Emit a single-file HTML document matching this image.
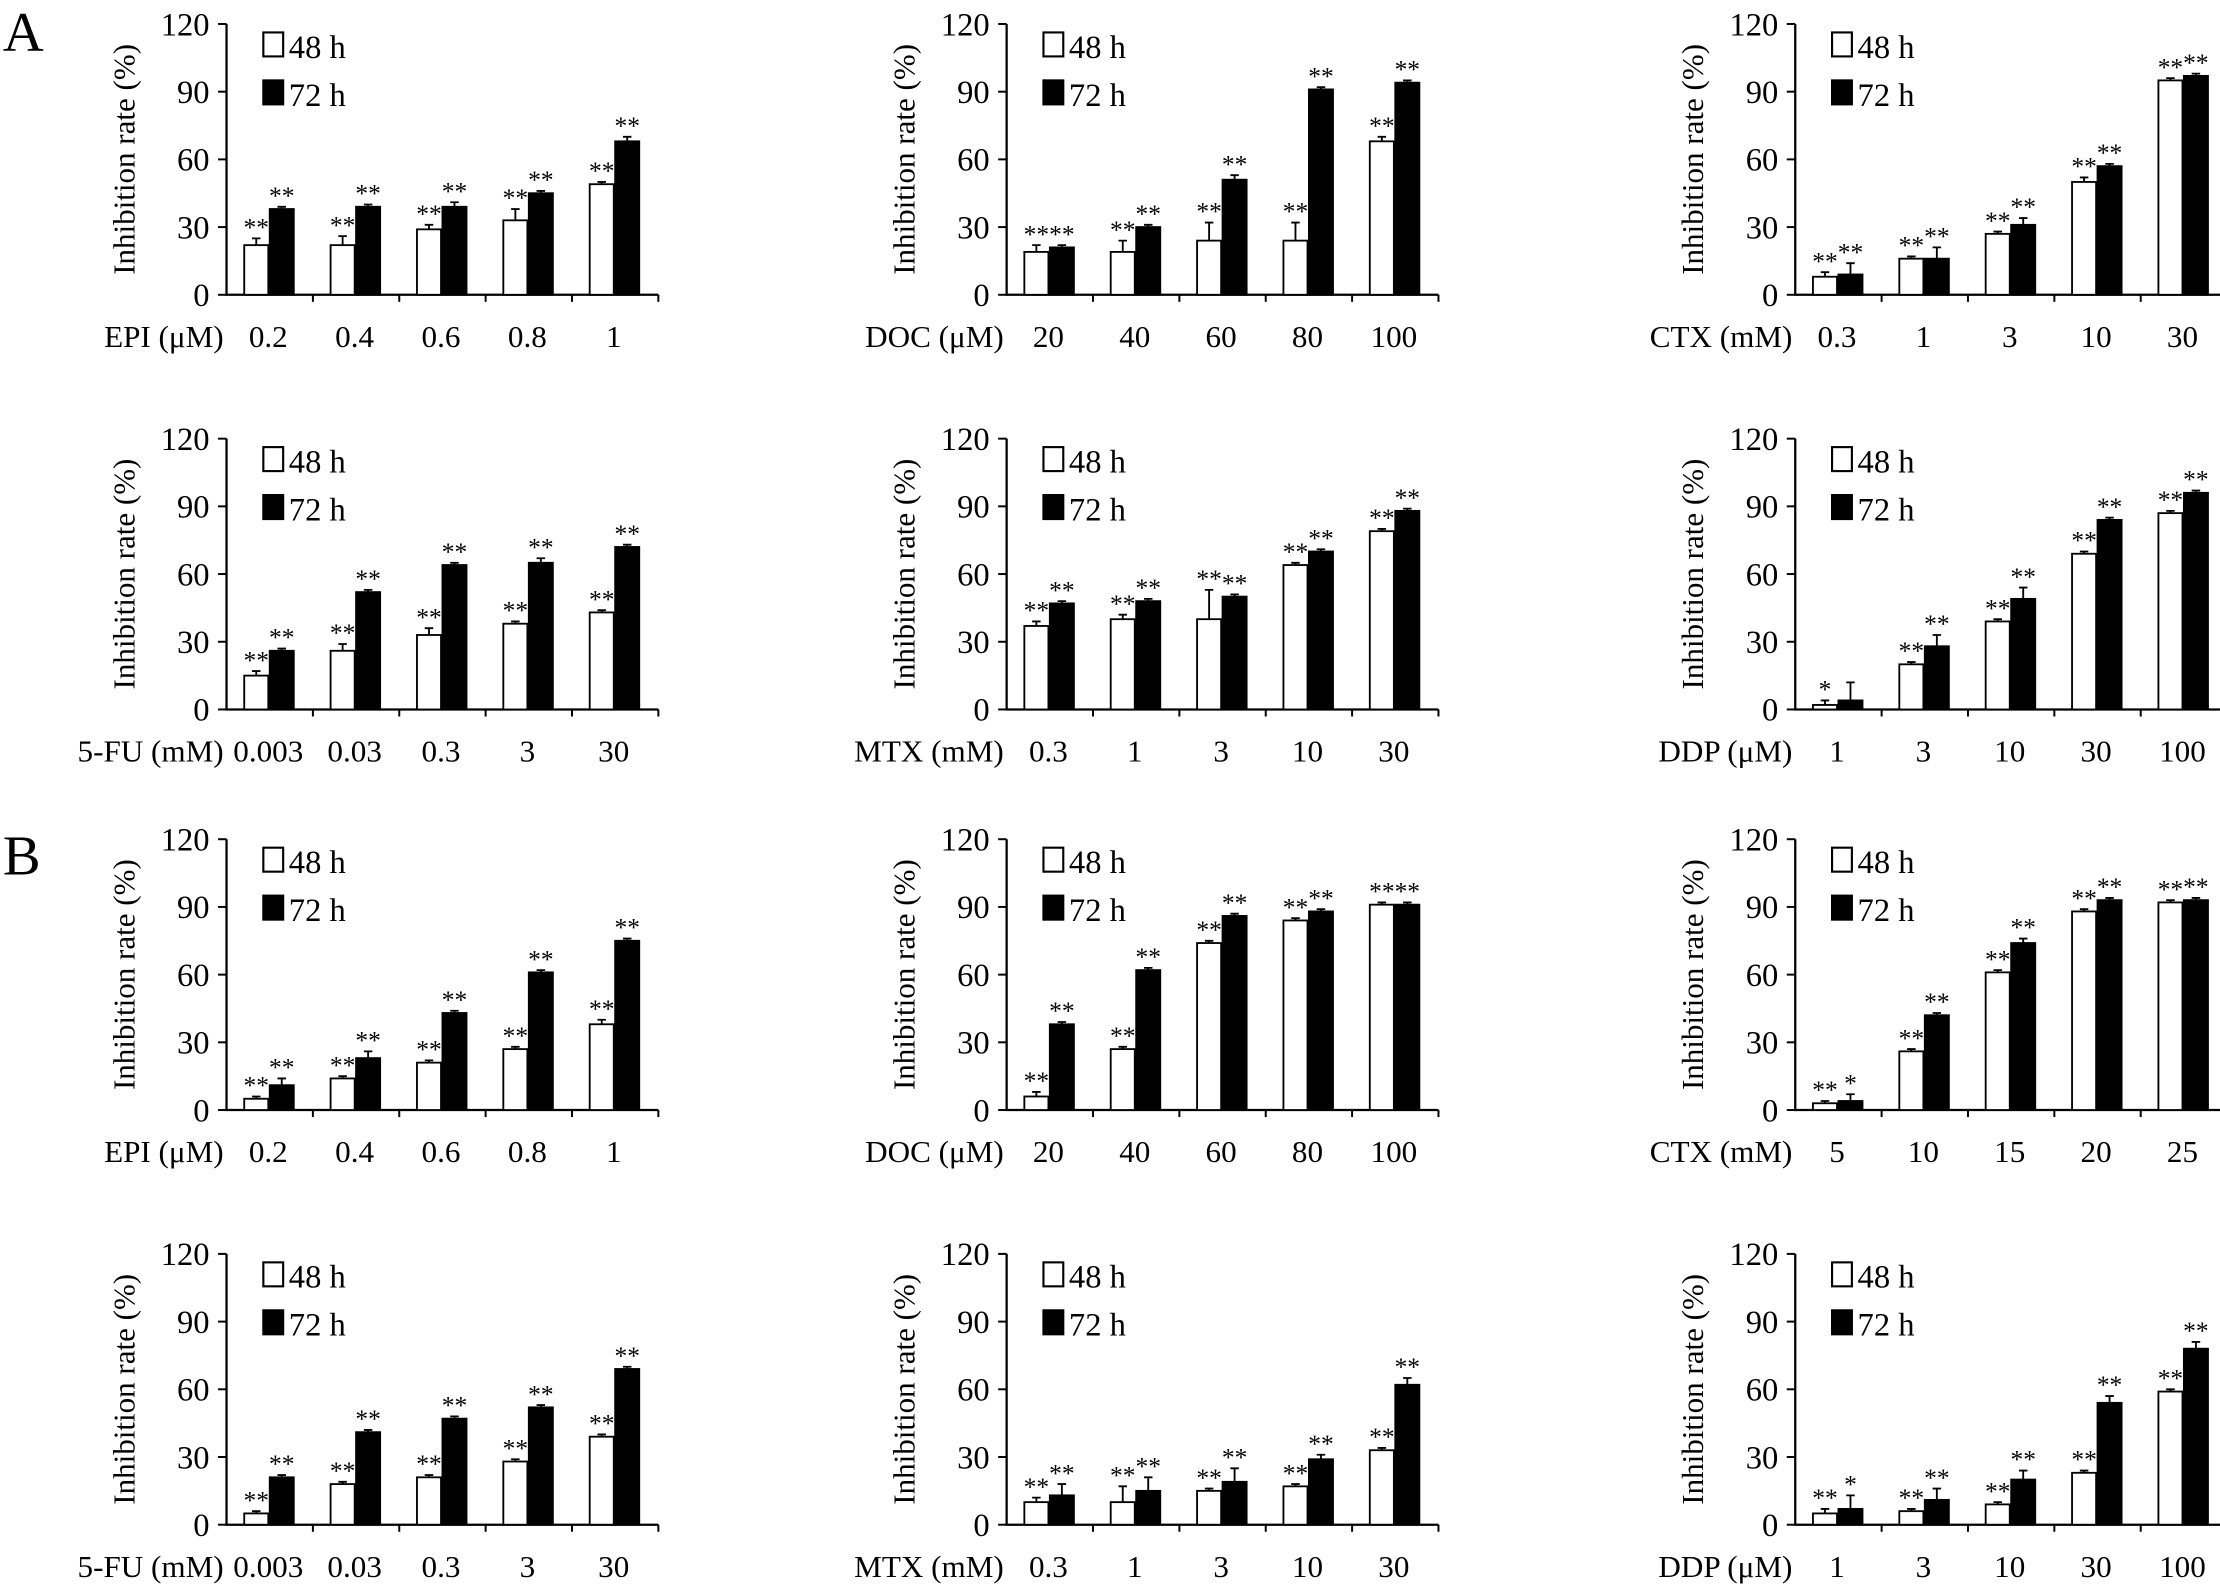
<!DOCTYPE html>
<html><head><meta charset="utf-8">
<style>
html,body{margin:0;padding:0;background:#fff;}
svg{display:block;font-family:"Liberation Serif",serif;}
</style></head>
<body>
<svg id="fig" width="2220" height="1591" viewBox="0 0 1568 1128" preserveAspectRatio="none" xmlns="http://www.w3.org/2000/svg">
<text x="2" y="36" font-size="40">A</text>
<text x="2" y="620" font-size="40">B</text>
</svg>
<script>
// ---- data ----
const yTicks = [0, 30, 60, 90, 120];
const catEPI = ["0.2","0.4","0.6","0.8","1"];
const catDOC = ["20","40","60","80","100"];
const catCTXa = ["0.3","1","3","10","30"];
const catFU = ["0.003","0.03","0.3","3","30"];
const catMTX = ["0.3","1","3","10","30"];
const catDDP = ["1","3","10","30","100"];
const catCTXb = ["5","10","15","20","25"];

const a1_48 = [22,22,29,33,49], a1_72 = [38,39,39,45,68], a1_e48 = [3,4,2,5,1], a1_e72 = [1,1,2,1,2];
const a2_48 = [19,19,24,24,68], a2_72 = [21,30,51,91,94], a2_e48 = [3,5,8,8,2], a2_e72 = [1,1,2,1,1];
const a3_48 = [8,16,27,50,95], a3_72 = [9,16,31,57,97], a3_e48 = [2,1,1,2,1], a3_e72 = [5,5,3,1,1];
const a4_48 = [15,26,33,38,43], a4_72 = [26,52,64,65,72], a4_e48 = [2,3,3,1,1], a4_e72 = [1,1,1,2,1];
const a5_48 = [37,40,40,64,79], a5_72 = [47,48,50,70,88], a5_e48 = [2,2,13,1,1], a5_e72 = [1,1,1,1,1];
const a6_48 = [2,20,39,69,87], a6_72 = [4,28,49,84,96], a6_e48 = [2,1,1,1,1], a6_e72 = [8,5,5,1,1];
const b1_48 = [5,14,21,27,38], b1_72 = [11,23,43,61,75], b1_e48 = [1,1,1,1,2], b1_e72 = [3,3,1,1,1];
const b2_48 = [6,27,74,84,91], b2_72 = [38,62,86,88,91], b2_e48 = [2,1,1,1,1], b2_e72 = [1,1,1,1,1];
const b3_48 = [3,26,61,88,92], b3_72 = [4,42,74,93,93], b3_e48 = [1,1,1,1,1], b3_e72 = [3,1,2,1,1];
const b4_48 = [5,18,21,28,39], b4_72 = [21,41,47,52,69], b4_e48 = [1,1,1,1,1], b4_e72 = [1,1,1,1,1];
const b5_48 = [10,10,15,17,33], b5_72 = [13,15,19,29,62], b5_e48 = [2,7,1,1,1], b5_e72 = [5,6,6,2,3];
const b6_48 = [5,6,9,23,59], b6_72 = [7,11,20,54,78], b6_e48 = [2,1,1,1,1], b6_e72 = [6,5,4,3,3];

const NS = "http://www.w3.org/2000/svg";
const svg = document.getElementById("fig");
function mk(tag, attrs, parent, txt){
  const e = document.createElementNS(NS, tag);
  for (const k in attrs) e.setAttribute(k, attrs[k]);
  if (txt !== undefined) e.textContent = txt;
  parent.appendChild(e);
  return e;
}

function panel(id, ax, y0, title, cats, v48, v72, e48, e72, star48, star72){
  const g = mk("g", {}, svg);
  
  
  const h = 192, step = 61, w = step*cats.length;
  const ys = v => y0 - v/120*h;
  const xc = i => ax + step*(i+0.5);
  const axes = mk("path", {d:`M${ax},${ys(120)}V${y0}H${ax+w}`, stroke:"#000", "stroke-width":1.6, fill:"none"}, g);
  
  
  yTicks.forEach(t=>{
    mk("line",{x1:ax-6,x2:ax,y1:ys(t),y2:ys(t),stroke:"#000","stroke-width":1.4},g);
    const tl = mk("text",{x:ax-12,y:ys(t)+8,"font-size":23,"text-anchor":"end"},g,String(t));
    
    
  });
  for(let i=1;i<=cats.length;i++) mk("line",{x1:ax+step*i,x2:ax+step*i,y1:y0,y2:y0+5,stroke:"#000","stroke-width":1.4},g);
  const yt = mk("text",{transform:`translate(${ax-65},${y0-h/2}) rotate(-90)`,"font-size":22,"text-anchor":"middle"},g,"Inhibition rate (%)");
  
  
  const xt = mk("text",{x:ax-2,y:y0+37,"font-size":22,"text-anchor":"end"},g,title);
  
  
  cats.forEach((c,i)=>{
    const t = mk("text",{x:xc(i)-1,y:y0+37,"font-size":22,"text-anchor":"middle"},g,c);
    
    
  });
  const bw = 17;
  function series(vals, errs, fill, off, stars, name){
    vals.forEach((v,i)=>{
      const x = xc(i)+off;
      const b = mk("rect",{x:x,y:ys(v),width:bw,height:y0-ys(v),fill:fill,stroke:"#000","stroke-width":1.3},g);
      
      
      const top = ys(v+errs[i]);
      mk("path",{d:`M${x+bw/2},${ys(v)}V${top}M${x+bw/2-3},${top}H${x+bw/2+3}`,stroke:"#000","stroke-width":1.3,fill:"none"},g);
      const s = mk("text",{x:x+bw/2,y:top-2,"font-size":18,"text-anchor":"middle"},g,stars[i]||"**");
      
      
    });
  }
  series(v48,e48,"#fff",-bw-1,star48,"48h");
  series(v72,e72,"#000",0,star72,"72h");
  const lg = mk("g",{},g);
  
  
  const lx = ax+26, ly = ys(120);
  mk("rect",{x:lx,y:ly+6,width:14,height:17,fill:"#fff",stroke:"#000","stroke-width":1.5},lg);
  mk("text",{x:lx+18,y:ly+24,"font-size":23},lg,"48 h");
  mk("rect",{x:lx,y:ly+40,width:14,height:17,fill:"#000",stroke:"#000","stroke-width":1.5},lg);
  mk("text",{x:lx+18,y:ly+58,"font-size":23},lg,"72 h");
}

const c1=160, c2=711, c3=1268;
const r1=209, r2=503, r3=787, r4=1081;
panel("a-epi",c1,r1,"EPI (\u03bcM)",catEPI,a1_48,a1_72,a1_e48,a1_e72,[],[]);
panel("a-doc",c2,r1,"DOC (\u03bcM)",catDOC,a2_48,a2_72,a2_e48,a2_e72,[],[]);
panel("a-ctx",c3,r1,"CTX (mM)",catCTXa,a3_48,a3_72,a3_e48,a3_e72,[],[]);
panel("a-5fu",c1,r2,"5-FU (mM)",catFU,a4_48,a4_72,a4_e48,a4_e72,[],[]);
panel("a-mtx",c2,r2,"MTX (mM)",catMTX,a5_48,a5_72,a5_e48,a5_e72,[],[]);
panel("a-ddp",c3,r2,"DDP (\u03bcM)",catDDP,a6_48,a6_72,a6_e48,a6_e72,["*"],[" "]);
panel("b-epi",c1,r3,"EPI (\u03bcM)",catEPI,b1_48,b1_72,b1_e48,b1_e72,[],[]);
panel("b-doc",c2,r3,"DOC (\u03bcM)",catDOC,b2_48,b2_72,b2_e48,b2_e72,[],[]);
panel("b-ctx",c3,r3,"CTX (mM)",catCTXb,b3_48,b3_72,b3_e48,b3_e72,[],["*"]);
panel("b-5fu",c1,r4,"5-FU (mM)",catFU,b4_48,b4_72,b4_e48,b4_e72,[],[]);
panel("b-mtx",c2,r4,"MTX (mM)",catMTX,b5_48,b5_72,b5_e48,b5_e72,[],[]);
panel("b-ddp",c3,r4,"DDP (\u03bcM)",catDDP,b6_48,b6_72,b6_e48,b6_e72,[],["*"]);
</script>
</body></html>
